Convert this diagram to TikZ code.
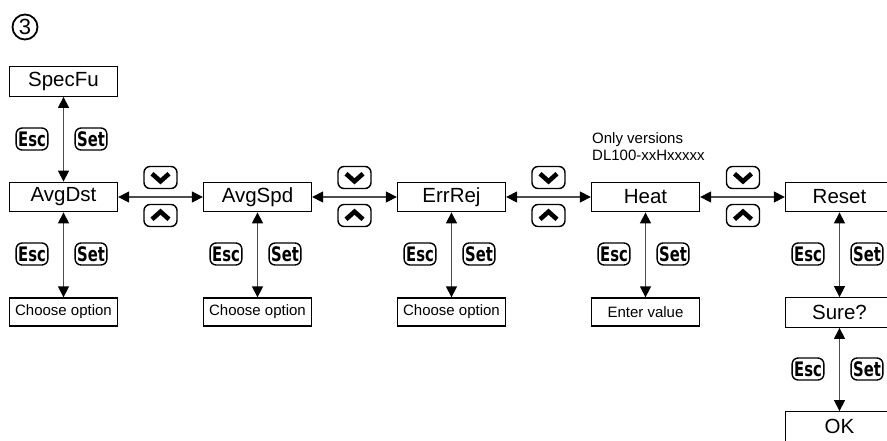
\documentclass[tikz,border=0pt]{standalone}
\usepackage{fontspec}
\setmainfont{Liberation Sans}
\newfontfamily\btnfont{DejaVu Sans}
\usetikzlibrary{arrows.meta}
\newcommand\keylabel[1]{\scalebox{0.74}[1]{\btnfont\bfseries #1}}
\begin{document}
\begin{tikzpicture}[x=1pt,y=-1pt,
  box/.style={draw=black, line width=1.3pt, fill=white, minimum width=108pt, minimum height=29.5pt, inner sep=0pt, font=\fontsize{20.5}{24}\selectfont},
  sbox/.style={box, minimum height=28pt, font=\fontsize{15}{18}\selectfont},
  key/.style={draw=black, line width=1.4pt, rounded corners=6pt, minimum height=22pt, inner xsep=2pt, inner ysep=0pt, font=\fontsize{20}{22}\selectfont},
  nav/.style={draw=black, line width=1.4pt, rounded corners=6pt, minimum width=33pt, minimum height=22pt, inner sep=0pt},
  chev/.style={line width=4.6pt, miter limit=10},
  conn/.style={draw=black!70, line width=1.3pt, {Triangle[length=11pt,width=11pt,color=black]}-{Triangle[length=11pt,width=11pt,color=black]}}
]
\useasboundingbox (0,0) rectangle (887,440);
\clip (0,0) rectangle (887,440);

\node[circle, draw, line width=1.8pt, minimum size=25pt, inner sep=0pt, font=\fontsize{22}{22}\selectfont] (num) at (25,27) {3};

% main boxes
\node[box] (spec) at (63.5,81.5) {SpecFu};
\node[box] (avgdst) at (63.5,197) {AvgDst};
\node[box] (avgspd) at (257.5,197) {AvgSpd};
\node[box] (errrej) at (451.5,197) {ErrRej};
\node[box] (heat) at (645.5,197) {Heat};
\node[box] (reset) at (839.5,197) {Reset};

% sub boxes
\node[sbox] (opt1) at (63.5,312) {Choose option};
\node[sbox] (opt2) at (257.5,312) {Choose option};
\node[sbox] (opt3) at (451.5,312) {Choose option};
\node[sbox] (enter) at (645.5,312) {Enter value};
\node[box] (sure) at (839.5,312.5) {Sure?};
\node[box] (ok) at (839.5,426.5) {OK};

\node[anchor=north west, align=left, inner sep=0pt, font=\fontsize{15}{17}\selectfont] (note) at (592,132) {Only versions\\DL100-xxHxxxxx};

% connectors
\draw[conn] (spec) -- (avgdst);
\draw[conn] (avgdst) -- (avgspd);
\draw[conn] (avgspd) -- (errrej);
\draw[conn] (errrej) -- (heat);
\draw[conn] (heat) -- (reset);
\draw[conn] (avgdst) -- (opt1);
\draw[conn] (avgspd) -- (opt2);
\draw[conn] (errrej) -- (opt3);
\draw[conn] (heat) -- (enter);
\draw[conn] (reset) -- (sure);
\draw[conn] (sure) -- (ok);

% Esc / Set keys
\node[key] (esc0) at (32,139) {\keylabel{Esc}};
\node[key] (set0) at (91,139) {\keylabel{Set}};
\foreach \i/\x in {1/63.5,2/257.5,3/451.5,4/645.5,5/839.5} {
  \node[key] (esc\i) at (\x-31.5,254) {\keylabel{Esc}};
  \node[key] (set\i) at (\x+27.5,254) {\keylabel{Set}};
}
\node[key] (esc6) at (808,369) {\keylabel{Esc}};
\node[key] (set6) at (867,369) {\keylabel{Set}};

% navigation keys
\foreach \i/\x in {1/160.5,2/354.5,3/548.5,4/743} {
  \node[nav] (dn\i) at (\x,177.5) {};
  \draw[chev] (dn\i.center) ++(-8.5,-3.8) -- ++(8.5,7.6) -- ++(8.5,-7.6);
  \node[nav] (up\i) at (\x,215.5) {};
  \draw[chev] (up\i.center) ++(-8.5,3.8) -- ++(8.5,-7.6) -- ++(8.5,7.6);
}
\end{tikzpicture}
\end{document}
